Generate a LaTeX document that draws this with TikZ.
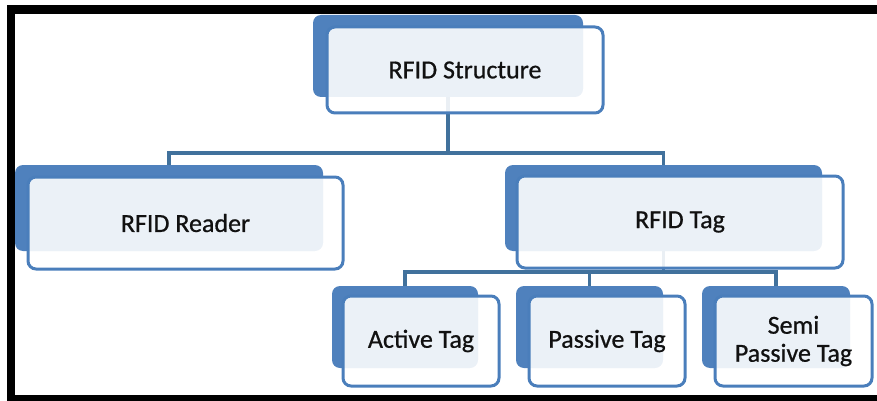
\documentclass[tikz,border=0pt]{standalone}
\usepackage{fontspec}
\setmainfont{Carlito}
\newfontfamily\boxfont{Carlito}[FakeBold=0.7]
\definecolor{backblue}{HTML}{4F81BD}
\definecolor{edgeblue}{HTML}{4A7EBB}
\definecolor{linkblue}{HTML}{41719C}
\definecolor{txt}{HTML}{111111}
\begin{document}
\begin{tikzpicture}[x=1pt,y=-1pt,
  backbox/.style={rectangle, rounded corners=8pt, fill=backblue, draw=none, inner sep=0pt},
  frontbox/.style={rectangle, rounded corners=8pt, draw=edgeblue, line width=3pt,
     fill=white, fill opacity=0.89, draw opacity=1, text opacity=1, inner sep=0pt,
     text=txt, font=\boxfont\fontsize{26}{28}\selectfont, align=center},
  link/.style={draw=linkblue, line width=3.5pt}]
\useasboundingbox (0,0) rectangle (877,401);
% frame
\fill[black] (7,5) rectangle (877,14);
\fill[black] (7,5) rectangle (15,401);
\fill[black] (7,395) rectangle (877,401);
% back boxes
\node[backbox, minimum width=270pt, minimum height=82pt] (sB) at (448,56) {};
\node[backbox, minimum width=308pt, minimum height=86pt] (rB) at (169,208) {};
\node[backbox, minimum width=317pt, minimum height=86pt] (tB) at (663.5,208) {};
\node[backbox, minimum width=146pt, minimum height=82pt] (aB) at (405,327) {};
\node[backbox, minimum width=147pt, minimum height=82pt] (pB) at (589.5,327) {};
\node[backbox, minimum width=148pt, minimum height=82pt] (mB) at (776,327) {};
% connectors
\coordinate (bus1) at (448,153);
\coordinate (bus2) at (663.5,272);
\draw[link] (sB.south) -- (bus1) -| (rB.north);
\draw[link] (bus1) -| (tB.north);
\draw[link] (tB.south) -- (bus2) -| (aB.north);
\draw[link] (bus2) -| (mB.north);
\draw[link] (bus2) -| (pB.north);
% front boxes
\node[frontbox, minimum width=276pt, minimum height=86pt] (s) at (465,70) {RFID Structure};
\node[frontbox, minimum width=315pt, minimum height=92pt] (r) at (185.5,223) {RFID Reader};
\node[frontbox, minimum width=326pt, minimum height=92pt] (t) at (680,222) {RFID Tag};
\node[frontbox, minimum width=156pt, minimum height=90pt] (a) at (421,341) {Active Tag};
\node[frontbox, minimum width=156pt, minimum height=90pt] (p) at (607,341) {Passive Tag};
\node[frontbox, minimum width=157pt, minimum height=90pt] (m) at (793.5,341) {Semi\\Passive Tag};
\end{tikzpicture}
\end{document}
